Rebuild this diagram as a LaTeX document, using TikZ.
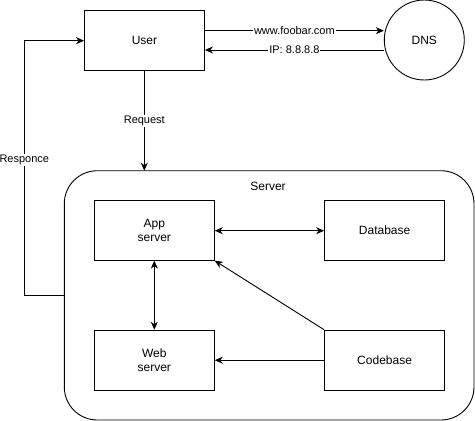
\documentclass[tikz,border=0pt]{standalone}
\usepackage{fontspec}
\setmainfont{Liberation Sans}
\usetikzlibrary{arrows.meta}
\begin{document}
\begin{tikzpicture}[x=1pt,y=-1pt,line width=0.9pt,
  box/.style={draw,minimum width=120pt,minimum height=60pt,align=center,font=\fontsize{12}{14}\selectfont,inner sep=0pt},
  lbl/.style={fill=white,font=\fontsize{11}{13}\selectfont,inner sep=1pt},
  arr/.style={-{Stealth[length=8pt,width=7pt,inset=2.5pt]}},
  darr/.style={{Stealth[length=8pt,width=7pt,inset=2.5pt]}-{Stealth[length=8pt,width=7pt,inset=2.5pt]}}]
\useasboundingbox (0,0) rectangle (475,421);
\fill[white] (0,0) rectangle (475,421);
\node[box] (user) at (144.5,40.3) {User};
\node[draw,circle,minimum size=80pt,inner sep=0pt,font=\fontsize{12}{14}\selectfont] (dns) at (424.3,40) {DNS};
\draw[rounded corners=33pt] (64.3,170.7) rectangle (474,420);
\coordinate (srvtop) at (144.3,170.7);
\coordinate (srvleft) at (64.3,295);
\node[font=\fontsize{12}{14}\selectfont] (srvlbl) at (268,186) {Server};
\node[box] (app) at (154.3,230.2) {App\\server};
\node[box] (db) at (384.6,230.3) {Database};
\node[box] (web) at (154.3,360.2) {Web\\server};
\node[box] (code) at (384.6,360.2) {Codebase};
\draw[arr] (user.east |- 0,30.7) -- node[lbl] {www.foobar.com} (dns.west |- 0,30.7);
\draw[arr] (dns.west |- 0,50) -- node[lbl] {IP: 8.8.8.8} (user.east |- 0,50);
\draw[arr] (user.south -| srvtop) -- node[lbl] {Request} (srvtop);
\draw[arr] (srvleft) -- (24.3,295) -- node[lbl,pos=0.53] {Responce} (24.3,40.7) -- (user.west |- 0,40.7);
\draw[darr] (app.east |- 0,230.7) -- (db.west |- 0,230.7);
\draw[darr] (app.south) -- (web.north);
\draw[arr] (code.north west) -- (app.south east);
\draw[arr] (code.west) -- (web.east);
\end{tikzpicture}
\end{document}
